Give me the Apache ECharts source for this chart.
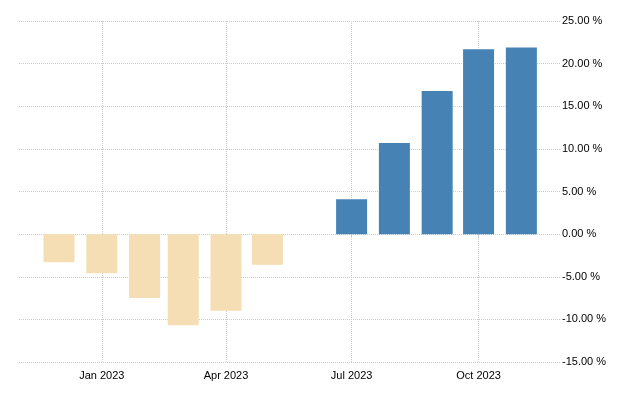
<!DOCTYPE html>
<html lang="en">
<head>
<meta charset="UTF-8">
<title>Monthly change</title>
<script src="https://cdn.jsdelivr.net/npm/echarts@6.0.0/dist/echarts.min.js"></script>
<style>
  html, body { margin: 0; padding: 0; background: #fff; }
  #main { width: 640px; height: 400px; }
</style>
</head>
<body>
<div id="main"></div>
<script>
// data
var months = ['2022-12-01', '2023-01-01', '2023-02-01', '2023-03-01', '2023-04-01', '2023-05-01',
              '2023-06-01', '2023-07-01', '2023-08-01', '2023-09-01', '2023-10-01', '2023-11-01'];
var values = [-3.3, -4.6, -7.5, -10.7, -9.0, -3.6, null, 4.1, 10.7, 16.8, 21.7, 21.9];
var quarterTicks = ['2023-01-01', '2023-04-01', '2023-07-01', '2023-10-01'];
var quarterLabels = ['Jan 2023', 'Apr 2023', 'Jul 2023', 'Oct 2023'];

function ts(s) {
    var p = s.split('-');
    return Date.UTC(+p[0], +p[1] - 1, +p[2]);
}

var tickValues = quarterTicks.map(ts);
var barData = [];
for (var i = 0; i < months.length; i++) {
    var v = values[i];
    barData.push({
        value: [ts(months[i]), v == null ? '-' : v],
        itemStyle: { color: v < 0 ? '#f5deb3' : '#4682b4' }
    });
}

var gridStyle = { color: '#cccccc', width: 1, type: [1, 1] };

var myChart = echarts.init(document.getElementById('main'));
var option = {
    animation: false,
    grid: { left: 19, right: 80, top: 21, bottom: 38, containLabel: false },
    xAxis: {
        // timestamps on a plain value axis, ticks only at quarter starts
        type: 'value',
        min: ts('2022-11-02'),
        max: ts('2023-11-29'),
        axisLine: { show: false },
        axisTick: { show: true, length: 4, lineStyle: { color: '#cccccc' }, customValues: tickValues },
        axisLabel: {
            customValues: tickValues,
            color: '#000',
            fontFamily: 'Liberation Sans',
            fontSize: 11,
            margin: 8,
            formatter: function (val) {
                var k = tickValues.indexOf(val);
                return k >= 0 ? quarterLabels[k] : '';
            }
        },
        splitLine: { show: true, lineStyle: gridStyle }
    },
    yAxis: {
        type: 'value',
        position: 'right',
        min: -15,
        max: 25,
        interval: 5,
        axisLine: { show: false },
        axisTick: { show: false },
        axisLabel: {
            color: '#000',
            fontFamily: 'Liberation Sans',
            fontSize: 11,
            margin: 2,
            formatter: function (v) { return v.toFixed(2) + ' %'; }
        },
        splitLine: { show: true, lineStyle: gridStyle }
    },
    series: [{
        type: 'bar',
        barWidth: 31,
        data: barData
    }]
};
myChart.setOption(option);
</script>
</body>
</html>
